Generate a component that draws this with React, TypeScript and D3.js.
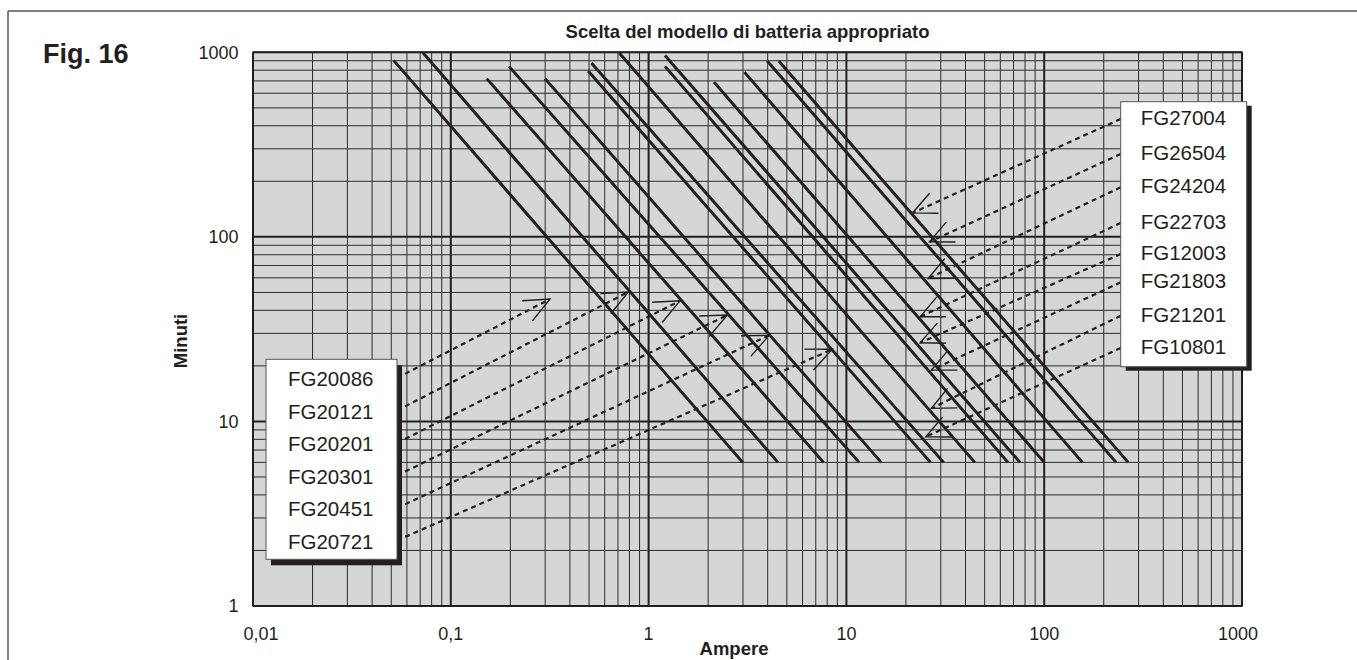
import React from "react";
import * as d3 from "d3";

// ---------- data ----------
const ampTicks = [0.01, 0.1, 1, 10, 100, 1000];
const ampTickLabels = ["0,01", "0,1", "1", "10", "100", "1000"];
const minuteTicks = [1, 10, 100, 1000];
const minuteTickLabels = ["1", "10", "100", "1000"];

// discharge curves: straight lines on log-log paper (start point -> end point)
const curveStartAmps = [0.0514, 0.0723, 0.152, 0.197, 0.2995, 0.495, 0.514, 0.711, 1.21, 1.21, 2.14, 3.05, 3.98, 4.55];
const curveStartMinutes = [904, 995, 720, 839, 720, 791, 874, 990, 962, 839, 690, 781, 896, 896];
const curveEndAmps = [2.99, 4.51, 7.66, 11.6, 15.0, 26.6, 31.0, 44.6, 75.5, 65.6, 100, 156, 231, 266];
const curveEndMinutes = [6, 6, 6, 6, 6, 6, 6, 6, 6, 6, 6, 6, 6, 6];

// model labels and where their arrows point (amps, minutes)
const leftModels = ["FG20086", "FG20121", "FG20201", "FG20301", "FG20451", "FG20721"];
const leftTipAmps = [0.317, 0.79, 1.44, 2.5, 4.07, 8.49];
const leftTipMinutes = [46, 50.3, 45.0, 37.7, 29.3, 24.6];

const rightModels = ["FG27004", "FG26504", "FG24204", "FG22703", "FG12003", "FG21803", "FG21201", "FG10801"];
const rightTipAmps = [21.6, 26.3, 25.9, 23.6, 23.6, 26.9, 26.9, 25.2];
const rightTipMinutes = [134.8, 93.9, 59.5, 36.9, 26.7, 18.97, 11.77, 8.26];

const titleText = "Scelta del modello di batteria appropriato";
const xAxisTitle = "Ampere";
const yAxisTitle = "Minuti";
const figLabel = "Fig. 16";

// ---------- layout ----------
const W = 1357;
const H = 660;
const PL = 253, PR = 1242, PT = 52.3, PB = 606;
const INK = "#231f20";
const FONT = "'Liberation Sans', Arial, Helvetica, sans-serif";

const leftBox = { x: 266, y: 359.3, w: 131, h: 200, sx: 5, sy: 6 };
const leftBaseline0 = 386;
const leftStep = 32.5;
const rightBox = { x: 1120.7, y: 101.7, w: 126, h: 265, sx: 5, sy: 4 };
const rightBaselines = [125, 160, 193.3, 229, 260, 288.3, 321.7, 354];

function arrowHead(tx: number, ty: number, sx: number, sy: number, len: number, half: number) {
  const ang = Math.atan2(sy - ty, sx - tx);
  const a1 = ang + (half * Math.PI) / 180;
  const a2 = ang - (half * Math.PI) / 180;
  return `M${tx + len * Math.cos(a1)},${ty + len * Math.sin(a1)}L${tx},${ty}L${tx + len * Math.cos(a2)},${ty + len * Math.sin(a2)}`;
}

export default function App() {
  const x = d3.scaleLog().domain([0.01, 1000]).range([PL, PR]);
  const y = d3.scaleLog().domain([1, 1000]).range([PB, PT]);
  const isMajor = (v: number) => Math.abs(Math.log10(v) - Math.round(Math.log10(v))) < 1e-9;

  const xGrid = x.ticks();
  const yGrid = y.ticks();

  const line = d3
    .line<[number, number]>()
    .x((d) => x(d[0]))
    .y((d) => y(d[1]));

  const xNudge = (i: number) => (i === 0 ? 8 : i === ampTicks.length - 1 ? -4 : 0);

  return (
    <svg
      width={W}
      height={H}
      style={{ position: "absolute", left: 0, top: 0, display: "block", background: "#fff" }}
      fontFamily={FONT}
    >
      {/* outer frame (top and left only) */}
      <line x1={8} y1={11} x2={W} y2={11} stroke="#555" strokeWidth={1.5} />
      <line x1={8} y1={11} x2={8} y2={H} stroke="#555" strokeWidth={1.5} />

      {/* plot background */}
      <rect x={PL} y={PT} width={PR - PL} height={PB - PT} fill="#d5d6d8" />

      {/* minor grid */}
      {xGrid.filter((v) => !isMajor(v)).map((v, i) => (
        <line key={"xm" + i} x1={x(v)} x2={x(v)} y1={PT} y2={PB} stroke="#2c2c2c" strokeWidth={1} />
      ))}
      {yGrid.filter((v) => !isMajor(v)).map((v, i) => (
        <line key={"ym" + i} x1={PL} x2={PR} y1={y(v)} y2={y(v)} stroke="#2c2c2c" strokeWidth={1} />
      ))}
      {/* major grid */}
      {xGrid.filter((v) => isMajor(v)).map((v, i) => (
        <line key={"xM" + i} x1={x(v)} x2={x(v)} y1={PT} y2={PB} stroke={INK} strokeWidth={2} />
      ))}
      {yGrid.filter((v) => isMajor(v)).map((v, i) => (
        <line key={"yM" + i} x1={PL} x2={PR} y1={y(v)} y2={y(v)} stroke={INK} strokeWidth={2} />
      ))}
      <rect x={PL} y={PT} width={PR - PL} height={PB - PT} fill="none" stroke={INK} strokeWidth={1.5} />

      {/* discharge curves */}
      {curveStartAmps.map((a, i) => (
        <path
          key={"c" + i}
          d={line([
            [a, curveStartMinutes[i]],
            [curveEndAmps[i], curveEndMinutes[i]],
          ]) || ""}
          stroke={INK}
          strokeWidth={3}
          fill="none"
        />
      ))}

      {/* left leaders */}
      {leftModels.map((m, i) => {
        const sx = leftBox.x + leftBox.w;
        const sy = leftBaseline0 + i * leftStep - 8;
        const tx = x(leftTipAmps[i]);
        const ty = y(leftTipMinutes[i]);
        return (
          <g key={"ll" + i}>
            <line x1={sx} y1={sy} x2={tx} y2={ty} stroke={INK} strokeWidth={2.2} strokeDasharray="5 4" />
            <path d={arrowHead(tx, ty, sx, sy, 28, 24)} stroke={INK} strokeWidth={1.4} fill="none" />
          </g>
        );
      })}

      {/* right leaders */}
      {rightModels.map((m, i) => {
        const sx = rightBox.x;
        const sy = rightBaselines[i] - 6;
        const tx = x(rightTipAmps[i]);
        const ty = y(rightTipMinutes[i]);
        return (
          <g key={"rl" + i}>
            <line x1={sx} y1={sy} x2={tx} y2={ty} stroke={INK} strokeWidth={2.2} strokeDasharray="5 4" />
            <path d={arrowHead(tx, ty, sx, sy, 26, 25)} stroke={INK} strokeWidth={1.4} fill="none" />
          </g>
        );
      })}

      {/* left legend box */}
      <rect x={leftBox.x + leftBox.sx} y={leftBox.y + leftBox.sy} width={leftBox.w} height={leftBox.h} fill={INK} />
      <rect x={leftBox.x} y={leftBox.y} width={leftBox.w} height={leftBox.h} fill="#fff" stroke="#555" strokeWidth={1} />
      {leftModels.map((m, i) => (
        <text key={"lt" + i} x={leftBox.x + 22} y={leftBaseline0 + i * leftStep} fontSize={20.5} fill={INK}>
          {m}
        </text>
      ))}

      {/* right legend box */}
      <rect x={rightBox.x + rightBox.sx} y={rightBox.y + rightBox.sy} width={rightBox.w} height={rightBox.h} fill={INK} />
      <rect x={rightBox.x} y={rightBox.y} width={rightBox.w} height={rightBox.h} fill="#fff" stroke="#555" strokeWidth={1} />
      {rightModels.map((m, i) => (
        <text key={"rt" + i} x={rightBox.x + 20} y={rightBaselines[i]} fontSize={20.5} fill={INK}>
          {m}
        </text>
      ))}

      {/* x tick labels */}
      {ampTicks.map((v, i) => (
        <text key={"xt" + i} x={x(v) + xNudge(i)} y={640} fontSize={18} textAnchor="middle" fill={INK}>
          {ampTickLabels[i]}
        </text>
      ))}
      {/* y tick labels */}
      {minuteTicks.map((v, i) => (
        <text key={"yt" + i} x={238.5} y={y(v)} dy="0.36em" fontSize={18} textAnchor="end" fill={INK}>
          {minuteTickLabels[i]}
        </text>
      ))}

      {/* titles */}
      <text x={(PL + PR) / 2} y={38} fontSize={18.5} fontWeight="bold" textAnchor="middle" fill={INK}>
        {titleText}
      </text>
      <text x={734} y={655} fontSize={18.5} fontWeight="bold" textAnchor="middle" fill={INK}>
        {xAxisTitle}
      </text>
      <text
        transform={`translate(186.5,341) rotate(-90)`}
        fontSize={18.5}
        fontWeight="bold"
        textAnchor="middle"
        fill={INK}
      >
        {yAxisTitle}
      </text>
      <text x={43} y={63.3} fontSize={27} fontWeight="bold" fill={INK}>
        {figLabel}
      </text>
    </svg>
  );
}
